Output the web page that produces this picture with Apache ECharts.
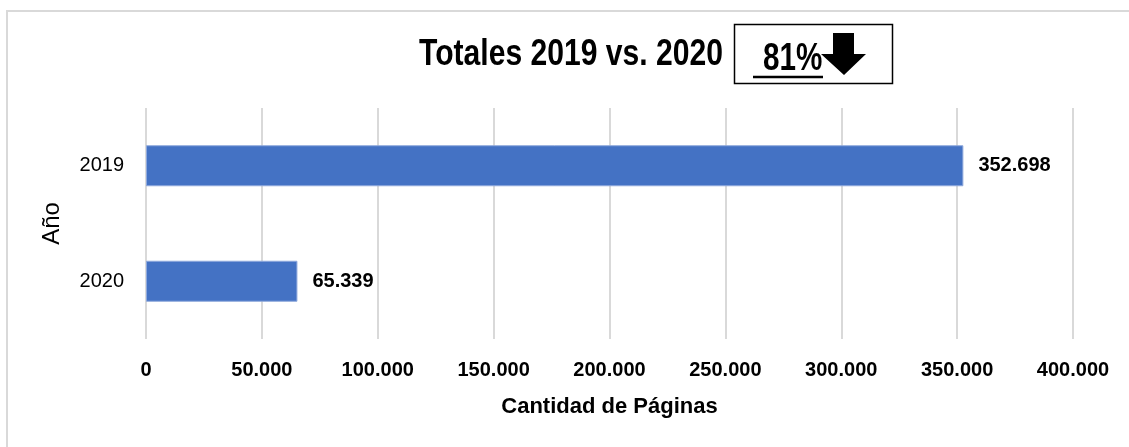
<!DOCTYPE html>
<html>
<head>
<meta charset="utf-8">
<script src="https://cdn.jsdelivr.net/npm/echarts@6/dist/echarts.min.js"></script>
<style>
  html, body { margin: 0; padding: 0; background: #fff; }
  #chart { width: 1129px; height: 447px; }
</style>
</head>
<body>
<div id="chart"></div>
<script>
// datos del gráfico
var years = ['2019', '2020']
var pages = [352698, 65339]
var xTicks = [0, 50000, 100000, 150000, 200000, 250000, 300000, 350000, 400000]
var titleText = 'Totales 2019 vs. 2020'
var changeText = '81%'

var FONT = '"Liberation Sans", Arial, sans-serif'

// 352698 -> 352.698
function fmt (v) {
  return String(v).replace(/\B(?=(\d{3})+(?!\d))/g, '.')
}

var chart = echarts.init(document.getElementById('chart'))

var option = {
  animation: false,
  textStyle: { fontFamily: FONT },
  grid: {
    left: 146,
    right: 56,
    top: 108,
    bottom: 108,
    containLabel: false
  },
  xAxis: {
    type: 'value',
    min: xTicks[0],
    max: xTicks[xTicks.length - 1],
    interval: xTicks[1] - xTicks[0],
    name: 'Cantidad de Páginas',
    nameLocation: 'middle',
    nameGap: 57,
    nameTextStyle: {
      color: '#000',
      fontSize: 22,
      fontWeight: 'bold',
      fontFamily: FONT
    },
    axisLine: { show: false },
    axisTick: { show: false },
    axisLabel: {
      color: '#000',
      fontSize: 20,
      fontWeight: 'bold',
      fontFamily: FONT,
      margin: 21,
      formatter: function (v) { return fmt(v) }
    },
    splitLine: {
      show: true,
      lineStyle: { color: '#d9d9d9', width: 2 }
    }
  },
  yAxis: {
    type: 'category',
    data: years,
    inverse: true,
    name: 'Año',
    nameLocation: 'middle',
    nameGap: 82,
    nameRotate: 90,
    nameTextStyle: {
      color: '#000',
      fontSize: 24,
      fontFamily: FONT
    },
    axisLine: { show: false },
    axisTick: { show: false },
    axisLabel: {
      color: '#000',
      fontSize: 20,
      fontFamily: FONT,
      margin: 22
    },
    splitLine: { show: false }
  },
  series: [{
    type: 'bar',
    data: pages,
    barWidth: '35.5%',
    itemStyle: {
      color: '#4472c4',
      borderColor: '#8fa9dc',
      borderWidth: 1
    },
    label: {
      show: true,
      position: 'right',
      distance: 15,
      color: '#000',
      fontSize: 20,
      fontWeight: 'bold',
      fontFamily: FONT,
      formatter: function (p) { return fmt(p.value) }
    }
  }],
  graphic: [
    // marco exterior
    {
      type: 'rect',
      shape: { x: 7, y: 11, width: 1140, height: 460 },
      style: { fill: 'none', stroke: '#d9d9d9', lineWidth: 2 },
      silent: true
    },
    {
      type: 'text',
      x: 723,
      y: 55,
      scaleX: 0.836,
      style: {
        text: titleText,
        textAlign: 'right',
        textVerticalAlign: 'middle',
        fill: '#000',
        font: 'bold 36px ' + FONT
      }
    },
    // recuadro del porcentaje
    {
      type: 'rect',
      shape: { x: 734.5, y: 24.5, width: 158, height: 59 },
      style: { fill: '#fff', stroke: '#000', lineWidth: 1.5 }
    },
    {
      type: 'text',
      x: 763,
      y: 60,
      scaleX: 0.78,
      style: {
        text: changeText,
        textAlign: 'left',
        textVerticalAlign: 'middle',
        fill: '#000',
        font: 'bold 38px ' + FONT
      }
    },
    {
      type: 'line',
      shape: { x1: 753, y1: 77, x2: 823, y2: 77 },
      style: { stroke: '#000', lineWidth: 2.5 }
    },
    // flecha hacia abajo
    {
      type: 'polygon',
      shape: {
        points: [[833, 33], [854, 33], [854, 54], [866, 54], [844, 75], [821, 54], [833, 54]]
      },
      style: { fill: '#000' }
    }
  ]
}

chart.setOption(option)
window.addEventListener('resize', function () { chart.resize() })
</script>
</body>
</html>
